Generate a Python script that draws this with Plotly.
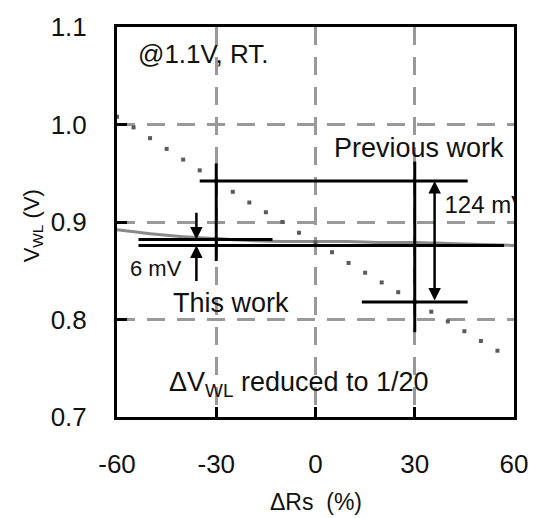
import plotly.graph_objects as go

# Word-line voltage vs. source-resistance variation (@1.1V, RT)
rs_prev = [-60, -55, -50, -45, -40, -35, -30, -25, -20, -15, -10, -5,
           0, 5, 10, 15, 20, 25, 30, 35, 40, 45, 50, 55]
vwl_prev = [1.008, 0.997, 0.986, 0.975, 0.964, 0.953, 0.942, 0.931, 0.920,
            0.910, 0.900, 0.889, 0.879, 0.869, 0.858, 0.848, 0.838, 0.828,
            0.818, 0.808, 0.798, 0.788, 0.778, 0.768]

rs_this = [-60, -50, -40, -30, -20, -10, 0, 10, 20, 30, 40, 50, 60]
vwl_this = [0.892, 0.888, 0.885, 0.883, 0.881, 0.880, 0.880, 0.880, 0.879,
            0.879, 0.878, 0.877, 0.876]

# Spread levels at dRs = -30 % and +30 %
prev_hi = vwl_prev[rs_prev.index(-30)]
prev_lo = vwl_prev[rs_prev.index(30)]
this_hi = 0.882
this_lo = 0.876

x_ticks = [-60, -30, 0, 30, 60]
x_labels = ["-60", "-30", "0", "30", "60"]
y_ticks = [0.7, 0.8, 0.9, 1.0, 1.1]
y_labels = ["0.7", "0.8", "0.9", "1.0", "1.1"]

FONT = "Liberation Sans, Arial, sans-serif"
INK = "#111111"

fig = go.Figure()

fig.add_trace(go.Scatter(
    x=rs_this, y=vwl_this, mode="lines",
    line=dict(color="#8a8a8a", width=3, shape="spline"),
    hoverinfo="skip",
))
fig.add_trace(go.Scatter(
    x=rs_prev, y=vwl_prev, mode="markers",
    marker=dict(symbol="square", size=4, color="#5a5a5a"),
    hoverinfo="skip",
))

# label for the previous-work spread, clipped at the frame
fig.add_trace(go.Scatter(
    x=[39], y=[0.915], mode="text",
    text=[f"{round((prev_hi - prev_lo) * 1000)} mV"],
    textposition="middle right", cliponaxis=True,
    textfont=dict(family=FONT, size=24, color=INK), hoverinfo="skip",
))

def hline(y, x0, x1):
    fig.add_shape(type="line", x0=x0, x1=x1, y0=y, y1=y, xref="x", yref="y",
                  line=dict(color="black", width=3), layer="above")

def vline(x, y0, y1):
    fig.add_shape(type="line", x0=x, x1=x, y0=y0, y1=y1, xref="x", yref="y",
                  line=dict(color="black", width=3), layer="above")

hline(prev_hi, -35, 46)
hline(prev_lo, 14, 46)
hline(this_hi, -53.5, -13)
hline(this_lo, -53.5, 57)
vline(-30, 0.860, 0.960)
vline(30, 0.787, 0.962)

def arrow(x, y_head, y_tail, both=False):
    fig.add_annotation(x=x, y=y_head, ax=x, ay=y_tail, xref="x", yref="y",
                       axref="x", ayref="y", text="", showarrow=True,
                       arrowhead=2, arrowsize=1, arrowwidth=2.5,
                       arrowcolor="black",
                       arrowside="end+start" if both else "end")

arrow(36, prev_hi, prev_lo, both=True)
arrow(-36, this_hi, this_hi + 0.029)
arrow(-36, this_lo, this_lo - 0.038)

def label(x, y, text, size):
    fig.add_annotation(x=x, y=y, xref="x", yref="y", text=text, showarrow=False,
                       xanchor="left", yanchor="middle",
                       font=dict(family=FONT, size=size, color=INK))

label(-54.3, 1.072, "@1.1V, RT.", 26)
label(5.0, 0.976, "Previous work", 27)
label(-56.6, 0.852, f"{round((this_hi - this_lo) * 1000)} mV", 22)
label(-43.6, 0.817, "This work", 27)
label(-44.8, 0.734, "ΔV<sub>WL</sub> reduced to 1/20", 27)

# axis titles
fig.add_annotation(x=0.5, y=-0.219, xref="paper", yref="paper",
                   text="ΔRs  (%)", showarrow=False, xanchor="center",
                   yanchor="middle", font=dict(family=FONT, size=23, color=INK))
fig.add_annotation(x=-0.213, y=0.49, xref="paper", yref="paper",
                   text="V<sub>WL</sub> (V)", showarrow=False, textangle=-90,
                   xanchor="center", yanchor="middle",
                   font=dict(family=FONT, size=22, color=INK))

axis_common = dict(
    showline=True, linewidth=3, linecolor="black", mirror=True,
    ticks="inside", ticklen=10, tickwidth=3, tickcolor="black",
    showgrid=True, gridcolor="#999999", gridwidth=2.5, griddash="18px,12px",
    zeroline=False, tickfont=dict(family=FONT, size=26, color=INK),
)

fig.update_xaxes(range=[-60, 60], tickvals=x_ticks, ticktext=x_labels,
                 ticklabelstandoff=22, **axis_common)
fig.update_yaxes(range=[0.7, 1.1], tickvals=y_ticks, ticktext=y_labels,
                 ticklabelstandoff=22, **axis_common)

fig.update_layout(
    width=540, height=518,
    margin=dict(l=117, r=16, t=16, b=101),
    plot_bgcolor="white", paper_bgcolor="white",
    showlegend=False,
)

fig.write_html("out.html")
